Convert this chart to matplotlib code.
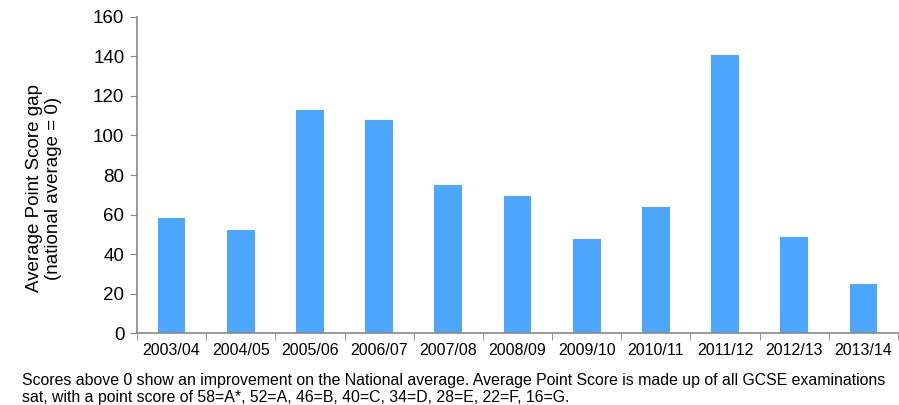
import matplotlib
matplotlib.use("Agg")
import matplotlib.pyplot as plt
import numpy as np

years = ["2003/04", "2004/05", "2005/06", "2006/07", "2007/08", "2008/09",
         "2009/10", "2010/11", "2011/12", "2012/13", "2013/14"]
aps_gap = [58.1, 52.2, 112.8, 107.8, 74.9, 69.4, 47.6, 63.8, 140.6, 48.7, 24.9]
y_ticks = [0, 20, 40, 60, 80, 100, 120, 140, 160]

plt.rcParams['font.family'] = ['Liberation Sans', 'DejaVu Sans']

W, H = 899, 405
fig = plt.figure(figsize=(W / 100, H / 100), dpi=100)
ax = fig.add_axes([137 / W, (H - 333.3) / H, (898 - 137) / W, (333.3 - 16.7) / H])

x = np.arange(len(years))
ax.bar(x, aps_gap, width=0.4, color="#4DA6FF", zorder=2)

ax.set_xlim(-0.5, len(years) - 0.5)
ax.set_ylim(0, 160)
ax.set_yticks(y_ticks)
ax.tick_params(axis='y', labelsize=13.5, length=5, color="#888888", direction='out', pad=4)

# category labels centred, tick marks between categories
ax.set_xticks(x)
ax.set_xticklabels(years, fontsize=11.5)
ax.tick_params(axis='x', which='major', length=0, pad=7)
ax.set_xticks(np.arange(-0.5, len(years) + 0.5, 1), minor=True)
ax.tick_params(axis='x', which='minor', length=5, color="#888888", direction='out')

for side in ("top", "right"):
    ax.spines[side].set_visible(False)
for side in ("left", "bottom"):
    ax.spines[side].set_color("#888888")
    ax.spines[side].set_linewidth(1.2)

fig.text(44 / W, 1 - 188 / H, "Average Point Score gap\n(national average = 0)",
         rotation=90, ha='center', va='center', fontsize=13.5, linespacing=1.1)

note = ("Scores above 0 show an improvement on the National average. Average Point Score is made up of all GCSE examinations\n"
        "sat, with a point score of 58=A*, 52=A, 46=B, 40=C, 34=D, 28=E, 22=F, 16=G.")
fig.text(22 / W, 1 - 389 / H, note, ha='left', va='center', fontsize=11.4,
         linespacing=1.2)

fig.savefig("out.png", dpi=100)
